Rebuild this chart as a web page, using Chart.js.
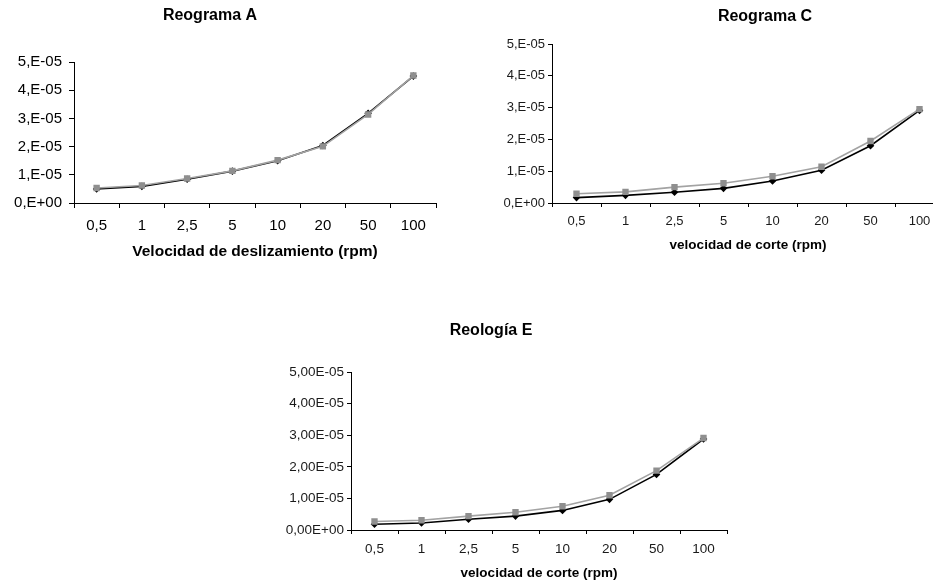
<!DOCTYPE html>
<html>
<head>
<meta charset="utf-8">
<script src="https://cdn.jsdelivr.net/npm/chart.js@4/dist/chart.umd.min.js"></script>
<style>
  html, body { margin: 0; padding: 0; background: #fff; overflow: hidden; width: 933px; height: 583px; }
  .box { position: absolute; }
</style>
</head>
<body>
<div class="box" style="left:0px;top:0px;"><canvas id="cA" width="460" height="270"></canvas></div>
<div class="box" style="left:470px;top:0px;"><canvas id="cC" width="480" height="270"></canvas></div>
<div class="box" style="left:240px;top:300px;"><canvas id="cE" width="500" height="283"></canvas></div>
<script>
// ---- data ----
const categories = ['0,5', '1', '2,5', '5', '10', '20', '50', '100'];

const reogramaA_black = [5.0e-6, 5.9e-6, 8.4e-6, 1.13e-5, 1.50e-5, 2.04e-5, 3.18e-5, 4.50e-5];
const reogramaA_grey  = [5.3e-6, 6.2e-6, 8.7e-6, 1.14e-5, 1.52e-5, 2.01e-5, 3.14e-5, 4.52e-5];

const reogramaC_black = [1.7e-6, 2.4e-6, 3.4e-6, 4.6e-6, 6.9e-6, 1.03e-5, 1.80e-5, 2.91e-5];
const reogramaC_grey  = [2.9e-6, 3.5e-6, 5.0e-6, 6.2e-6, 8.4e-6, 1.14e-5, 1.95e-5, 2.95e-5];

const reologiaE_black = [1.8e-6, 2.2e-6, 3.4e-6, 4.4e-6, 6.2e-6, 9.7e-6, 1.76e-5, 2.88e-5];
const reologiaE_grey  = [2.7e-6, 3.1e-6, 4.4e-6, 5.6e-6, 7.5e-6, 1.10e-5, 1.88e-5, 2.91e-5];

const yTickValues = [0, 1e-5, 2e-5, 3e-5, 4e-5, 5e-5];
const yTickLabelsShort = ['0,E+00', '1,E-05', '2,E-05', '3,E-05', '4,E-05', '5,E-05'];
const yTickLabelsLong  = ['0,00E+00', '1,00E-05', '2,00E-05', '3,00E-05', '4,00E-05', '5,00E-05'];

// ---- helpers ----
const FONT = "'Liberation Sans', Arial, Helvetica, sans-serif";

const fixedTitlePlugin = {
  id: 'fixedTitle',
  afterDraw(chart, args, opts) {
    if (!opts || !opts.text) return;
    const ctx = chart.ctx;
    ctx.save();
    ctx.font = 'bold ' + opts.size + 'px ' + FONT;
    ctx.fillStyle = '#000';
    ctx.textAlign = 'center';
    ctx.textBaseline = 'middle';
    ctx.fillText(opts.text, opts.x, opts.y);
    ctx.restore();
  }
};

function makeChart(id, cfg) {
  const datasets = [
    {
      label: 'Serie 2',
      data: cfg.grey,
      borderColor: '#a3a3a3',
      backgroundColor: '#8f8f8f',
      borderWidth: 1.6,
      pointStyle: 'rect',
      pointRadius: 4.5,
      pointBorderWidth: 0,
      pointBackgroundColor: '#8f8f8f',
      tension: 0,
      order: 0
    },
    {
      label: 'Serie 1',
      data: cfg.black,
      borderColor: '#000',
      backgroundColor: '#000',
      borderWidth: 1.6,
      pointStyle: 'rectRot',
      pointRadius: 3.8,
      pointBorderWidth: 0,
      pointBackgroundColor: '#000',
      tension: 0,
      order: 1
    }
  ];
  return new Chart(document.getElementById(id), {
    type: 'line',
    data: { labels: categories, datasets: datasets },
    plugins: [fixedTitlePlugin],
    options: {
      responsive: false,
      animation: false,
      events: [],
      layout: { padding: cfg.padding },
      plugins: {
        legend: { display: false },
        tooltip: { enabled: false },
        title: { display: false },
        fixedTitle: cfg.title
      },
      scales: {
        x: {
          type: 'category',
          offset: true,
          afterFit: (s) => { s.height = cfg.xHeight; },
          grid: { offset: true, drawOnChartArea: false, drawTicks: true, tickLength: cfg.tickLen, color: '#000', lineWidth: 1 },
          border: { display: true, color: '#000', width: 1 },
          ticks: { color: cfg.tickColor, font: { family: FONT, size: cfg.tickSize }, padding: cfg.xTickPad, maxRotation: 0, autoSkip: false },
          title: { display: true, text: cfg.xTitle, color: '#000', font: { family: FONT, size: cfg.xTitleSize, weight: 'bold' }, padding: { top: 0, bottom: cfg.xTitlePad } }
        },
        y: {
          min: 0,
          max: 5e-5,
          afterFit: (s) => { s.width = cfg.yWidth; },
          afterBuildTicks: (s) => { s.ticks = yTickValues.map(v => ({ value: v })); },
          grid: { drawOnChartArea: false, drawTicks: true, tickLength: cfg.tickLen, color: '#000', lineWidth: 1 },
          border: { display: true, color: '#000', width: 1 },
          ticks: {
            color: cfg.tickColor,
            font: { family: FONT, size: cfg.tickSize },
            padding: cfg.yTickPad,
            callback: (v, i) => cfg.yLabels[i]
          }
        }
      }
    }
  });
}

// Reograma A : plot area 74..436 x 62..203
makeChart('cA', {
  black: reogramaA_black, grey: reogramaA_grey, yLabels: yTickLabelsShort,
  padding: { left: 0, right: 24, top: 62, bottom: 9 },
  yWidth: 74, xHeight: 58, tickLen: 5, tickSize: 15, tickColor: '#000',
  xTickPad: 9, yTickPad: 7,
  xTitle: 'Velocidad de deslizamiento (rpm)', xTitleSize: 15.5, xTitlePad: 0,
  title: { text: 'Reograma A', x: 210, y: 16, size: 16 }
});

// Reograma C : plot area (canvas-relative) 82..474 x 44..203
makeChart('cC', {
  black: reogramaC_black, grey: reogramaC_grey, yLabels: yTickLabelsShort,
  padding: { left: 0, right: 6, top: 44, bottom: 17 },
  yWidth: 82, xHeight: 50, tickLen: 4, tickSize: 13, tickColor: '#1a1a1a',
  xTickPad: 7, yTickPad: 3,
  xTitle: 'velocidad de corte (rpm)', xTitleSize: 13.5, xTitlePad: 0,
  title: { text: 'Reograma C', x: 295, y: 17, size: 16 }
});

// Reologia E : plot area (canvas-relative) 111..487 x 72..230
makeChart('cE', {
  black: reologiaE_black, grey: reologiaE_grey, yLabels: yTickLabelsLong,
  padding: { left: 0, right: 13, top: 72, bottom: 2 },
  yWidth: 111, xHeight: 51, tickLen: 4, tickSize: 13.5, tickColor: '#1a1a1a',
  xTickPad: 7, yTickPad: 3,
  xTitle: 'velocidad de corte (rpm)', xTitleSize: 13.5, xTitlePad: 0,
  title: { text: 'Reología E', x: 251, y: 31, size: 16 }
});
</script>
</body>
</html>
